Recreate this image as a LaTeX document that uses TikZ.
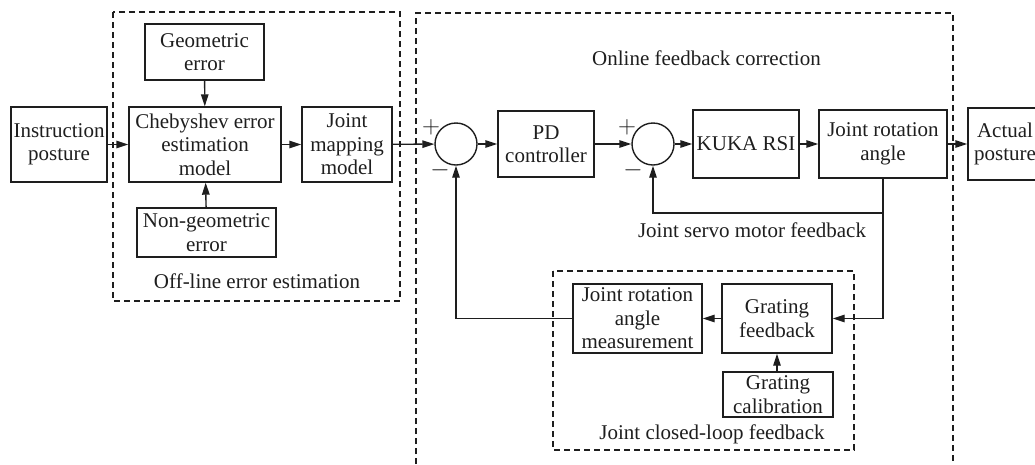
\documentclass[tikz,border=0pt]{standalone}
\usepackage{fontspec}
\setmainfont{Liberation Serif}
\usetikzlibrary{arrows.meta}
\definecolor{ink}{HTML}{1E1E1E}
\tikzset{
  blk/.style={draw=ink, line width=1.4pt, inner sep=0pt, align=center, text=ink,
              font=\fontsize{21}{23.5}\selectfont},
  lbl/.style={inner sep=0pt, text=ink, font=\fontsize{21}{23.5}\selectfont},
  sgn/.style={inner sep=0pt, text=ink, font=\fontsize{27}{27}\selectfont},
  sumpt/.style={draw=ink, line width=1.4pt, circle, minimum size=42pt, inner sep=0pt},
  frame/.style={draw=ink, line width=1.2pt, dash pattern=on 6pt off 4pt},
  link/.style={draw=ink, line width=1.4pt},
  arr/.style={link, -{Triangle[length=12pt,width=7.5pt]}},
}
\begin{document}
\begin{tikzpicture}[x=1pt,y=-1pt]
\useasboundingbox (0,0) rectangle (1035,464);
\clip (0,0) rectangle (1035,464);

% dashed group frames
\draw[frame] (113,12) rectangle (400,301);
\draw[frame] (416,464) -- (416,13) -- (953,13) -- (953,464);
\draw[frame] (553,271) rectangle (854,450);

% off-line estimation blocks
\node[blk, minimum width=96pt, minimum height=75pt] (inst) at (59,144.5) {Instruction\\posture};
\node[blk, minimum width=119pt, minimum height=56pt] (geo) at (204.5,52) {Geometric\\error};
\node[blk, minimum width=152pt, minimum height=75pt] (cheb) at (205,144.5) {Chebyshev error\\estimation\\model};
\node[blk, minimum width=90pt, minimum height=75pt] (map) at (347,144.5) {Joint\\mapping\\model};
\node[blk, minimum width=139pt, minimum height=49pt] (ngeo) at (206.5,232.5) {Non-geometric\\error};
\node[lbl] (offl) at (257,281) {Off-line error estimation};

% online correction loop
\node[lbl] (onl) at (706.5,58) {Online feedback correction};
\node[sumpt] (s1) at (456,144) {};
\node[sumpt] (s2) at (653,144) {};
\node[sgn] (p1) at (431,127) {$+$};
\node[sgn] (m1) at (440,170) {$-$};
\node[sgn] (p2) at (627,127) {$+$};
\node[sgn] (m2) at (633,170) {$-$};
\node[blk, minimum width=96pt, minimum height=66pt] (pd) at (546,144) {PD\\controller};
\node[blk, minimum width=106pt, minimum height=68pt] (kuka) at (746,144) {KUKA RSI};
\node[blk, minimum width=128pt, minimum height=68pt] (jra) at (883,144) {Joint rotation\\angle};
\node[blk, minimum width=74pt, minimum height=72pt] (act) at (1005,144) {Actual\\posture};
\node[lbl] (servo) at (752,230) {Joint servo motor feedback};

% closed-loop grating feedback
\node[blk, minimum width=129pt, minimum height=69pt] (meas) at (637.5,318.5) {Joint rotation\\angle\\measurement};
\node[blk, minimum width=110pt, minimum height=69pt] (grfb) at (777,318.5) {Grating\\feedback};
\node[blk, minimum width=110pt, minimum height=45pt] (grcal) at (778,394.5) {Grating\\calibration};
\node[lbl] (clsd) at (712,434) {Joint closed-loop feedback};

\coordinate (tap) at (883,213);

% signal flow
\draw[arr] (inst) -- (cheb);
\draw[arr] (geo) -- (cheb);
\draw[arr] (ngeo) -- (cheb);
\draw[arr] (cheb) -- (map);
\draw[arr] (map) -- (s1);
\draw[arr] (s1) -- (pd);
\draw[arr] (pd) -- (s2);
\draw[arr] (s2) -- (kuka);
\draw[arr] (kuka) -- (jra);
\draw[arr] (jra.east) -- (act.west);
\draw[arr] (jra.south) -- (tap) -| (s2.south);
\draw[arr] (tap) |- (grfb.east);
\draw[arr] (grfb) -- (meas);
\draw[arr] (grcal.north -| grfb.south) -- (grfb.south);
\draw[arr] (meas.west) -| (s1.south);
\end{tikzpicture}
\end{document}
